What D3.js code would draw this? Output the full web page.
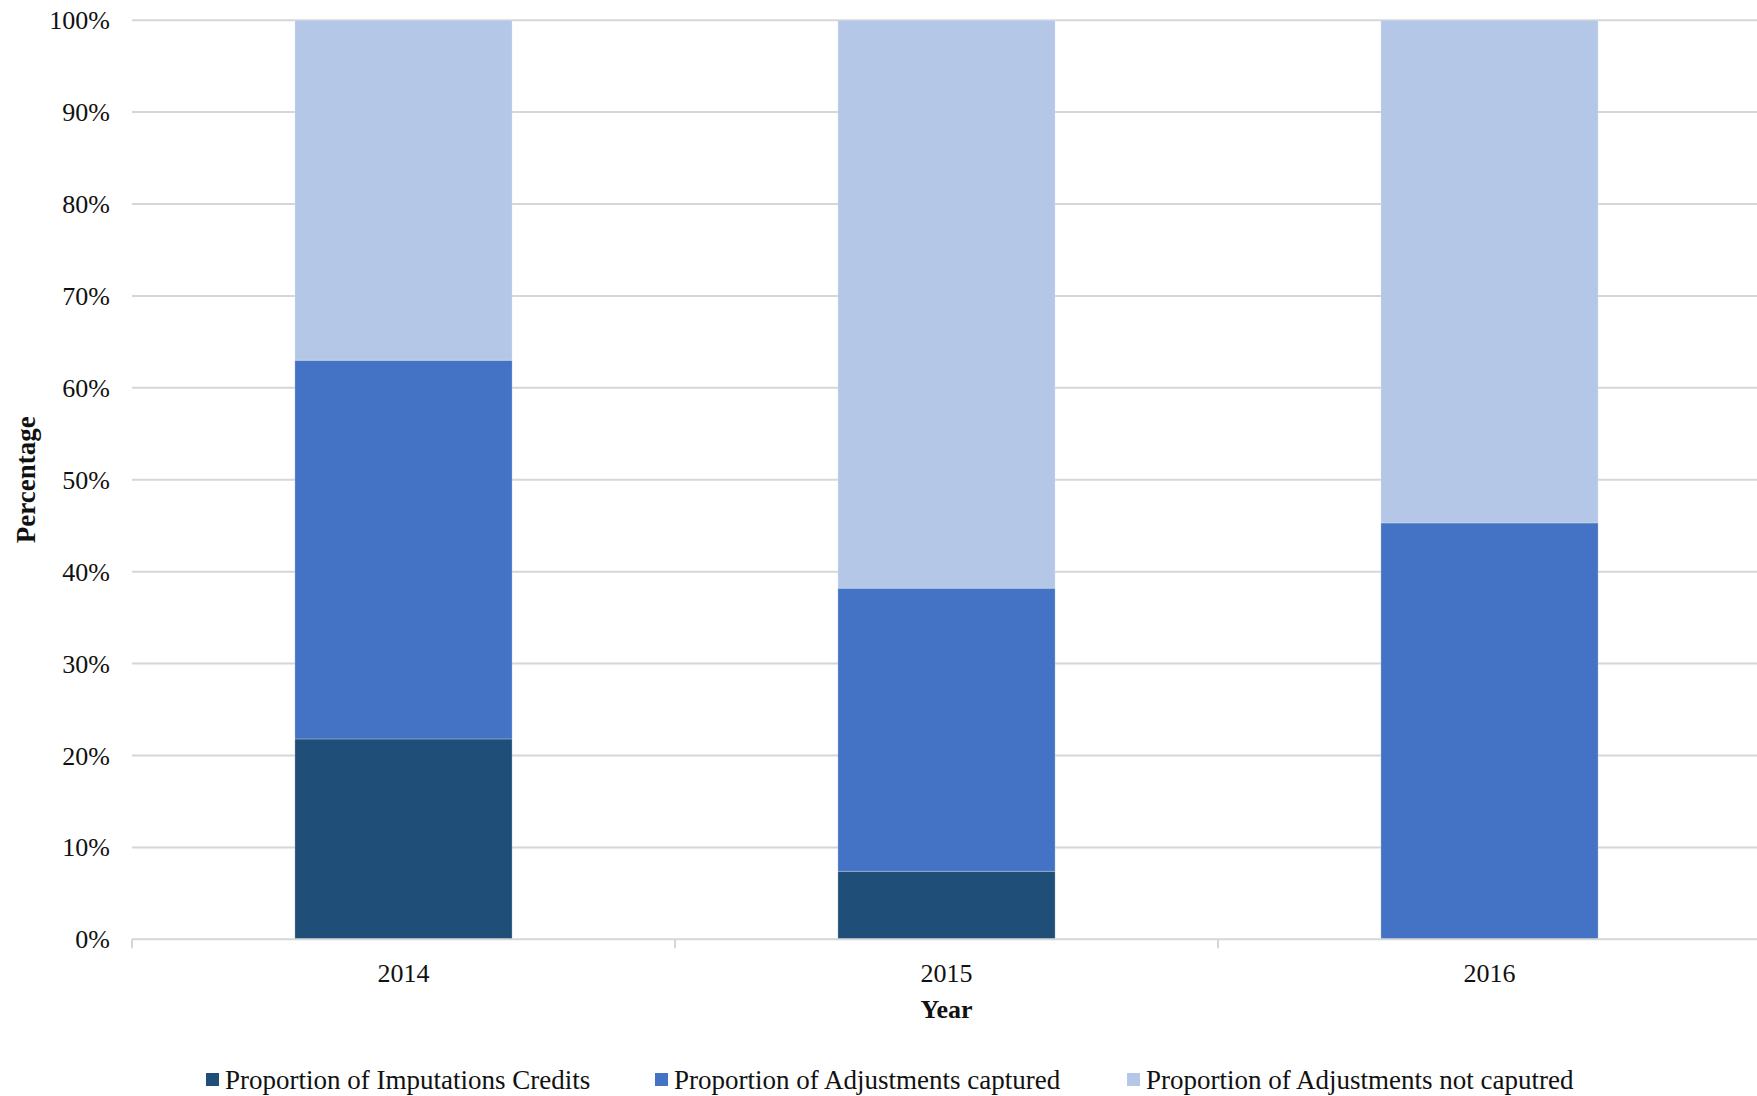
<!DOCTYPE html>
<html>
<head>
<meta charset="utf-8">
<script src="https://cdn.jsdelivr.net/npm/d3@7"></script>
<style>
  html, body { margin: 0; padding: 0; background: #ffffff; overflow: hidden; }
  svg { display: block; }
  text { font-family: "Liberation Serif", "Times New Roman", serif; fill: #111111; }
</style>
</head>
<body>
<svg id="chart" width="1757" height="1096"></svg>
<script>
// Years on the category axis
const years = ["2014", "2015", "2016"];

// Series (shares of the total, in percent), bottom to top in each stack
const seriesNames = [
  "Proportion of Imputations Credits",
  "Proportion of Adjustments captured",
  "Proportion of Adjustments not caputred"
];
const imputationCredits   = [21.8, 7.4, 0.0];
const adjustmentsCaptured = [41.2, 30.8, 45.3];
const adjustmentsNotCaptured = [37.0, 61.8, 54.7];

// Value-axis tick labels
const yTicks = [0, 10, 20, 30, 40, 50, 60, 70, 80, 90, 100];

const colors = ["#1f4e79", "#4472c4", "#b4c7e7"];

// Table for d3.stack
const keys = ["credits", "captured", "notCaptured"];
const rows = years.map((yr, i) => ({
  year: yr,
  credits: imputationCredits[i],
  captured: adjustmentsCaptured[i],
  notCaptured: adjustmentsNotCaptured[i]
}));

const svg = d3.select("#chart");

const plotLeft = 132, plotRight = 1761, plotTop = 20.2, plotBottom = 939.3;

const x = d3.scaleBand().domain(years).range([plotLeft, plotRight]).padding(0);
const y = d3.scaleLinear().domain([0, 100]).range([plotBottom, plotTop]);

const barFrac = 0.4;
const bw = x.bandwidth() * barFrac;
const barX = d => x(d) + (x.bandwidth() - bw) / 2;

// Horizontal gridlines
svg.append("g")
  .selectAll("line")
  .data(yTicks.filter(t => t > 0))
  .join("line")
  .attr("x1", plotLeft).attr("x2", plotRight)
  .attr("y1", d => y(d)).attr("y2", d => y(d))
  .attr("stroke", "#d6d6d6").attr("stroke-width", 2);

// Stacked bars
const stacked = d3.stack().keys(keys)(rows);
svg.append("g")
  .selectAll("g")
  .data(stacked)
  .join("g")
  .attr("fill", (d, i) => colors[i])
  .selectAll("rect")
  .data(d => d)
  .join("rect")
  .attr("x", d => barX(d.data.year))
  .attr("width", bw)
  .attr("y", d => y(d[1]))
  .attr("height", d => Math.max(0, y(d[0]) - y(d[1])))
  .attr("stroke", "rgba(255,255,255,0.25)")
  .attr("stroke-width", 1);

// Category axis line and tick marks at band boundaries
svg.append("line")
  .attr("x1", plotLeft).attr("x2", plotRight)
  .attr("y1", y(0)).attr("y2", y(0))
  .attr("stroke", "#d6d6d6").attr("stroke-width", 2);

const boundaries = years.map(yr => x(yr)).concat([x(years[years.length - 1]) + x.bandwidth()]);
svg.append("g")
  .selectAll("line")
  .data(boundaries)
  .join("line")
  .attr("x1", d => d).attr("x2", d => d)
  .attr("y1", y(0)).attr("y2", y(0) + 9)
  .attr("stroke", "#d6d6d6").attr("stroke-width", 2);

// Value-axis labels
svg.append("g")
  .selectAll("text")
  .data(yTicks)
  .join("text")
  .attr("x", 110)
  .attr("y", d => y(d))
  .attr("dy", "0.35em")
  .attr("text-anchor", "end")
  .style("font-size", "26px")
  .text(d => d + "%");

// Category labels
svg.append("g")
  .selectAll("text")
  .data(years)
  .join("text")
  .attr("x", d => x(d) + x.bandwidth() / 2)
  .attr("y", 982)
  .attr("text-anchor", "middle")
  .style("font-size", "26px")
  .text(d => d);

// Axis titles
svg.append("text")
  .attr("x", (plotLeft + plotRight) / 2)
  .attr("y", 1018)
  .attr("text-anchor", "middle")
  .style("font-size", "26px")
  .style("font-weight", "bold")
  .text("Year");

svg.append("text")
  .attr("transform", `translate(35,${(plotTop + plotBottom) / 2}) rotate(-90)`)
  .attr("text-anchor", "middle")
  .style("font-size", "27px")
  .style("font-weight", "bold")
  .text("Percentage");

// Legend
const legendX = [206, 655, 1127];
const legend = svg.append("g")
  .selectAll("g")
  .data(seriesNames)
  .join("g")
  .attr("transform", (d, i) => `translate(${legendX[i]},0)`);

legend.append("rect")
  .attr("x", 0).attr("y", 1073)
  .attr("width", 13).attr("height", 13)
  .attr("fill", (d, i) => colors[i]);

legend.append("text")
  .attr("x", 19).attr("y", 1089)
  .style("font-size", "27px")
  .text(d => d);
</script>
</body>
</html>
